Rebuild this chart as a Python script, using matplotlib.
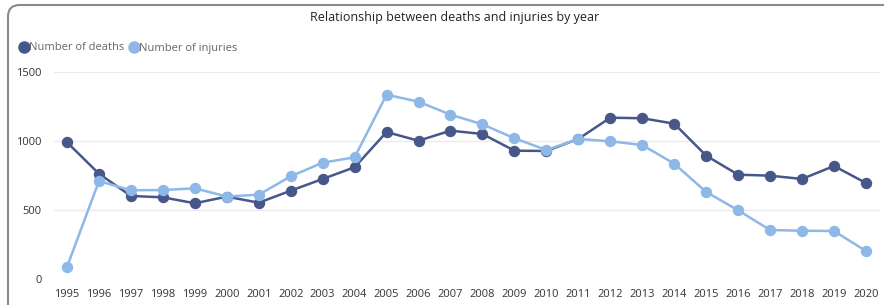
import matplotlib.pyplot as plt
from matplotlib.patches import FancyBboxPatch
from matplotlib.lines import Line2D

# dados
anos = [str(a) for a in range(1995, 2021)]
mortes = [993, 765, 604, 594, 551, 599, 555, 642, 727, 812, 1067, 1004, 1077,
          1053, 932, 930, 1017, 1171, 1167, 1128, 896, 758, 751, 727, 821, 698]
feridos = [89, 712, 645, 647, 659, 600, 613, 746, 845, 884, 1338, 1287, 1193,
           1123, 1022, 937, 1017, 1000, 973, 838, 633, 500, 357, 352, 350, 205]
yticks = [0, 500, 1000, 1500]

cor_mortes = '#485789'
cor_feridos = '#8db8e8'

plt.rcParams['font.family'] = ['Open Sans', 'DejaVu Sans']

W, H = 884, 305
fig = plt.figure(figsize=(W / 100, H / 100), dpi=100)

# cartão com canto arredondado
card = FancyBboxPatch((8 / W, -0.2), 1.2, (H - 5) / H + 0.2,
                      boxstyle='round,pad=0,rounding_size=0.013',
                      transform=fig.transFigure, facecolor='white',
                      edgecolor='#8a8a8a', linewidth=1.5, mutation_aspect=W / H,
                      zorder=-10)
fig.patches.append(card)

ax = fig.add_axes([54 / W, 1 - 279.3 / H, (880 - 54) / W, (279.3 - 72.3) / H])
ax.set_facecolor('none')
x = range(len(anos))

ax.plot(x, mortes, color=cor_mortes, lw=1.8, marker='o', ms=7.2,
        clip_on=False, zorder=3)
ax.plot(x, feridos, color=cor_feridos, lw=1.8, marker='o', ms=7.2,
        clip_on=False, zorder=4)

ax.set_xlim(-0.407, 25.44)
ax.set_ylim(0, 1500)
ax.set_xticks(list(x))
ax.set_xticklabels(anos)
ax.set_yticks(yticks)
ax.grid(axis='y', color='#ebebeb', lw=1)
ax.set_axisbelow(True)
for s in ax.spines.values():
    s.set_visible(False)
ax.tick_params(length=0, labelsize=8, labelcolor='#333333')
ax.tick_params(axis='x', pad=7)
ax.tick_params(axis='y', pad=9)

fig.text(455 / W, 1 - 18 / H, 'Relationship between deaths and injuries by year',
         ha='center', va='center', fontsize=9, color='#222222')

handles = [Line2D([], [], ls='none', marker='o', ms=8, color=cor_mortes),
           Line2D([], [], ls='none', marker='o', ms=8, color=cor_feridos)]
fig.legend(handles, ['Number of deaths', 'Number of injuries'],
           loc='center left', bbox_to_anchor=(15 / W, 1 - 48 / H), ncol=2,
           frameon=False, fontsize=8, labelcolor='#666666', handlelength=0.6,
           handletextpad=0.15, columnspacing=0.6, borderpad=0)

fig.savefig('out.png', dpi=100)
